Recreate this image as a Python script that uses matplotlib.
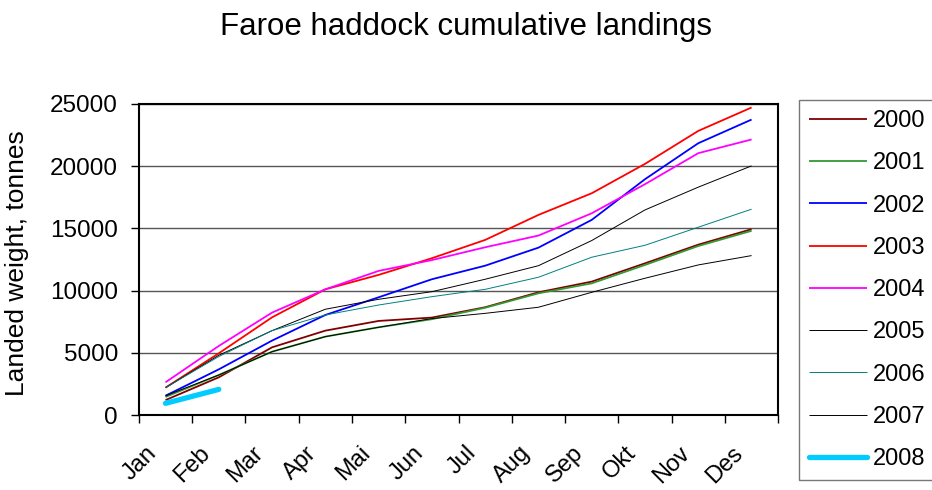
import numpy as np
import matplotlib
matplotlib.use('Agg')
import matplotlib.pyplot as plt
from matplotlib.transforms import ScaledTranslation

plt.rcParams['font.family'] = ['Liberation Sans', 'DejaVu Sans']

# Month labels (Faroese)
MONTHS = ['Jan', 'Feb', 'Mar', 'Apr', 'Mai', 'Jun', 'Jul', 'Aug', 'Sep', 'Okt', 'Nov', 'Des']

# Cumulative landings per year, tonnes
y2000 = [1200, 3030, 5440, 6780, 7560, 7830, 8660, 9860, 10720, 12190, 13690, 14930]
y2001 = [1450, 3215, 5090, 6300, 7050, 7700, 8620, 9780, 10580, 12060, 13580, 14800]
y2002 = [1550, 3670, 5980, 8040, 9460, 10910, 12000, 13450, 15680, 18950, 21840, 23740]
y2003 = [2200, 4960, 7850, 10100, 11260, 12600, 14070, 16080, 17820, 20180, 22830, 24710]
y2004 = [2630, 5550, 8230, 10100, 11580, 12450, 13480, 14420, 16210, 18550, 21040, 22140]
y2005 = [2200, 4800, 6780, 8500, 9300, 9910, 10910, 12000, 14020, 16480, 18310, 20020]
y2006 = [2200, 4700, 6780, 8040, 8840, 9510, 10100, 11070, 12680, 13640, 15090, 16540]
y2007 = [1550, 3215, 5090, 6300, 7050, 7750, 8170, 8660, 9860, 10990, 12060, 12810]
y2008 = [940, 2060]

series = [
    ('2000', y2000, '#800000', 1.3),
    ('2001', y2001, '#339933', 1.3),
    ('2002', y2002, '#0000ff', 1.3),
    ('2003', y2003, '#ff0000', 1.3),
    ('2004', y2004, '#ff00ff', 1.3),
    ('2005', y2005, '#000000', 0.7),
    ('2006', y2006, '#008080', 0.7),
    ('2007', y2007, '#000000', 0.7),
    ('2008', y2008, '#00ccff', 3.8),
]

fig = plt.figure(figsize=(9.32, 4.9), dpi=100)
ax = fig.add_axes([0.149, 0.153, 0.686, 0.635])

x = np.arange(len(MONTHS))
for name, vals, col, lw in series:
    ax.plot(x[:len(vals)], vals, color=col, lw=lw, label=name,
            solid_capstyle='round' if name == '2008' else 'butt')

ax.set_xlim(-0.5, 11.5)
ax.set_ylim(0, 25000)
ax.set_yticks(range(0, 25001, 5000))
ax.yaxis.grid(True, color='#555555', lw=1)
ax.set_axisbelow(True)

# ticks on category boundaries, labels at centres
ax.set_xticks(np.arange(-0.5, 12, 1))
ax.set_xticklabels([])
ax.set_xticks(x, minor=True)
ax.set_xticklabels(MONTHS, minor=True, rotation=45, ha='right', va='center',
                   rotation_mode='anchor', fontsize=17)
ax.tick_params(axis='x', which='minor', length=0, pad=25)
ax.tick_params(axis='both', which='major', direction='out', length=6, width=1, labelsize=17.5)
ax.tick_params(axis='y', pad=9)
shift = ScaledTranslation(-12 / 100, 0, fig.dpi_scale_trans)
for lbl in ax.get_xticklabels(minor=True):
    lbl.set_transform(lbl.get_transform() + shift)

for s in ax.spines.values():
    s.set_linewidth(1.5)

ax.set_ylabel('Landed weight, tonnes', fontsize=19)
ax.yaxis.set_label_coords(-0.172, 0.487)
fig.suptitle('Faroe haddock cumulative landings', fontsize=22.5, y=0.975)

leg = fig.legend(loc='upper left', bbox_to_anchor=(799 / 932, 1 - 100 / 490), borderaxespad=0,
                 fontsize=17, frameon=True, fancybox=False, edgecolor='#555555',
                 handlelength=2.46, labelspacing=0.86, borderpad=0.42, handletextpad=0.25)
leg.get_frame().set_linewidth(1)

fig.savefig('out.png', dpi=100)
